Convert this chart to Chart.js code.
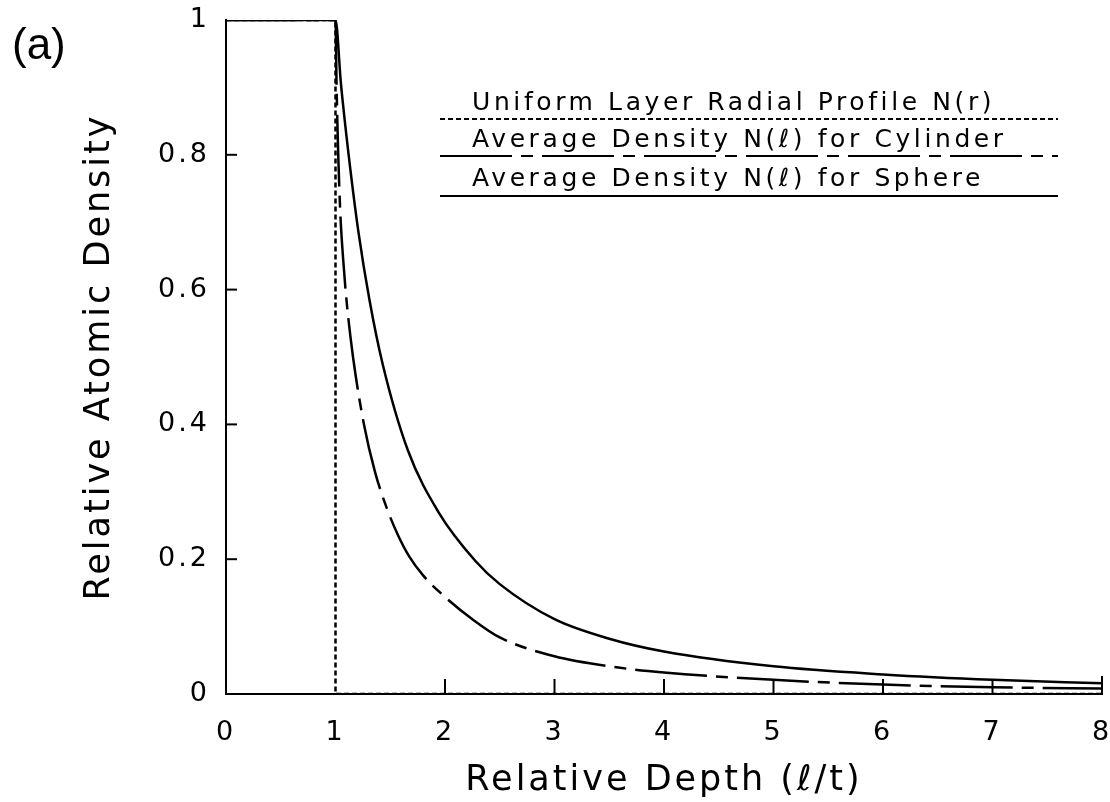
<!DOCTYPE html>
<html>
<head>
<meta charset="utf-8">
<script src="https://cdn.jsdelivr.net/npm/chart.js@4/dist/chart.umd.min.js"></script>
<style>
  html, body { margin: 0; padding: 0; background: #fff; }
  #c { display: block; }
</style>
</head>
<body>
<canvas id="c" width="1110" height="802"></canvas>
<script>
// ---- data ----
const xTickValues = [0, 1, 2, 3, 4, 5, 6, 7, 8];
const yTickLabels = ['0', '0.2', '0.4', '0.6', '0.8', '1'];

// Uniform Layer Radial Profile N(r)
const uniformX = [0, 1, 1, 8];
const uniformY = [1, 1, 0, 0];

// Average Density N(l) for Cylinder
const cylinderX = [0, 1, 1.01, 1.025, 1.045, 1.07, 1.10, 1.16, 1.26, 1.36, 1.47, 1.57, 1.67, 1.8, 2, 2.25, 2.5, 3, 3.5, 4, 5, 6, 7, 8];
const cylinderY = [1, 1, 0.90, 0.80, 0.71, 0.645, 0.585, 0.500, 0.400, 0.330, 0.275, 0.236, 0.205, 0.176, 0.144, 0.111, 0.084, 0.056, 0.041, 0.032, 0.021, 0.014, 0.010, 0.008];

// Average Density N(l) for Sphere
const sphereX = [0, 1, 1.05, 1.12, 1.21, 1.31, 1.43, 1.66, 1.94, 2.28, 2.5, 3, 3.5, 4, 5, 6, 7, 8];
const sphereY = [1, 1, 0.905, 0.80, 0.685, 0.585, 0.49, 0.362, 0.270, 0.197, 0.163, 0.111, 0.082, 0.063, 0.041, 0.029, 0.021, 0.016];

const legendLabels = [
  'Uniform Layer Radial Profile N(r)',
  'Average Density N(\u2113) for Cylinder',
  'Average Density N(\u2113) for Sphere'
];
const xTitle = 'Relative Depth (\u2113/t)';
const yTitle = 'Relative Atomic Density';
const panelLabel = '(a)';

// ---- styles ----
const FONT = "'DejaVu Sans', Verdana, sans-serif";
const SPACING = '3px';
const dottedDash = [5, 3];
const cylDash = [72, 9, 12, 9];

function pts(xs, ys) { return xs.map((x, i) => ({ x: x, y: ys[i] })); }

function setSpacing(chart) {
  if ('letterSpacing' in chart.ctx) chart.ctx.letterSpacing = SPACING;
}

const spacingPlugin = {
  id: 'spacing',
  afterInit: setSpacing,
  beforeUpdate: setSpacing,
  beforeLayout: setSpacing,
  beforeDraw: setSpacing,
  afterDatasetsDraw: setSpacing
};

const decorPlugin = {
  id: 'decor',
  afterDraw(chart) {
    const ctx = chart.ctx;
    const xs = chart.scales.x, ys = chart.scales.y;
    ctx.save();
    ctx.strokeStyle = '#000';
    ctx.lineWidth = 2;
    ctx.setLineDash([]);
    // inward y ticks
    [0.2, 0.4, 0.6, 0.8].forEach(v => {
      const py = ys.getPixelForValue(v);
      const px = xs.getPixelForValue(0);
      ctx.beginPath(); ctx.moveTo(px, py); ctx.lineTo(px + 11, py); ctx.stroke();
    });
    // inward x ticks
    xTickValues.slice(2).forEach(v => {
      const px = xs.getPixelForValue(v);
      const py = ys.getPixelForValue(0);
      ctx.beginPath(); ctx.moveTo(px, py); ctx.lineTo(px, py - (v === 8 ? 18 : 15)); ctx.stroke();
    });

    // legend (text with line sample underneath)
    const lx0 = 440, lx1 = 1058, tx = 472;
    const baselines = [110, 147, 186];
    const lineYs = [119, 156, 196];
    const dashes = [dottedDash, cylDash, []];
    ctx.fillStyle = '#000';
    ctx.font = '25px ' + FONT;
    ctx.textAlign = 'left';
    ctx.textBaseline = 'alphabetic';
    if ('letterSpacing' in ctx) ctx.letterSpacing = '3.6px';
    legendLabels.forEach((t, i) => {
      ctx.fillText(t, tx, baselines[i]);
      ctx.setLineDash(dashes[i]);
      ctx.lineWidth = 2;
      ctx.beginPath(); ctx.moveTo(lx0, lineYs[i]); ctx.lineTo(lx1, lineYs[i]); ctx.stroke();
    });
    ctx.setLineDash([]);

    // panel label
    ctx.font = "44px 'Liberation Sans', Arial, sans-serif";
    if ('letterSpacing' in ctx) ctx.letterSpacing = '0px';
    ctx.textBaseline = 'middle';
    ctx.fillText(panelLabel, 12, 47);
    ctx.restore();
    setSpacing(chart);
  }
};

const chart = new Chart(document.getElementById('c'), {
  type: 'line',
  data: {
    datasets: [
      {
        label: legendLabels[2],
        data: pts(sphereX, sphereY),
        borderColor: '#000',
        borderWidth: 2.5,
        pointRadius: 0,
        cubicInterpolationMode: 'monotone',
        fill: false
      },
      {
        label: legendLabels[1],
        data: pts(cylinderX, cylinderY),
        borderColor: '#000',
        borderWidth: 2.5,
        borderDash: cylDash,
        pointRadius: 0,
        cubicInterpolationMode: 'monotone',
        fill: false
      },
      {
        label: legendLabels[0],
        data: pts(uniformX, uniformY),
        borderColor: '#000',
        borderWidth: 2.5,
        borderDash: dottedDash,
        pointRadius: 0,
        tension: 0,
        fill: false
      }
    ]
  },
  options: {
    responsive: false,
    animation: false,
    devicePixelRatio: 1,
    layout: { padding: { top: 20, right: 8, bottom: 0, left: 0 } },
    plugins: { legend: { display: false }, tooltip: { enabled: false } },
    scales: {
      x: {
        type: 'linear',
        min: 0, max: 8,
        afterBuildTicks(scale) { scale.ticks = xTickValues.map(v => ({ value: v })); },
        ticks: {
          padding: 23, color: '#000', maxRotation: 0, autoSkip: false,
          font: { family: FONT, size: 27 },
          callback: v => String(v)
        },
        grid: { display: false, drawTicks: false },
        border: { display: true, color: '#000', width: 2 },
        title: {
          display: true, text: xTitle, color: '#000',
          font: { family: FONT, size: 35 },
          padding: { top: 5, bottom: 0 }
        },
        afterFit(scale) {
          scale.height = 108;
          scale.paddingLeft = 0;
          scale.paddingRight = 0;
        }
      },
      y: {
        type: 'linear',
        min: 0, max: 1,
        afterBuildTicks(scale) { scale.ticks = yTickLabels.map(s => ({ value: parseFloat(s) })); },
        ticks: {
          padding: 16, color: '#000',
          font: { family: FONT, size: 27 },
          callback: (v) => yTickLabels.find(s => parseFloat(s) === v) || ''
        },
        grid: { display: false, drawTicks: false },
        border: { display: true, color: '#000', width: 2 },
        title: {
          display: true, text: yTitle, color: '#000',
          font: { family: FONT, size: 35 },
          padding: { top: 79, bottom: 0 }
        },
        afterFit(scale) {
          scale.width = 226;
          scale.paddingTop = 0;
          scale.paddingBottom = 0;
        }
      }
    }
  },
  plugins: [spacingPlugin, decorPlugin]
});
</script>
</body>
</html>
